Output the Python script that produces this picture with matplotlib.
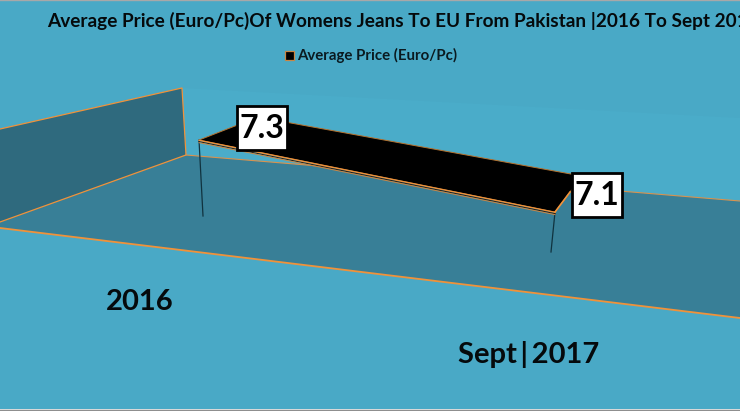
import matplotlib
matplotlib.use("Agg")
import matplotlib.pyplot as plt
from matplotlib.patches import Polygon, Rectangle

title = "Average Price (Euro/Pc)Of Womens Jeans To EU From Pakistan |2016 To Sept 2017"
series_name = "Average Price (Euro/Pc)"
periods = ["2016", "Sept\u2009|\u20092017"]
prices = [7.3, 7.1]

BG = "#49a9c6"
BACK = "#4aacc9"
FLOOR = "#387f97"
WALL = "#2f6a7e"
ORANGE = "#f0923a"

# the picture is a 3d chart, so draw in pixel space and project the values
base_value = 6.878
px_per_euro = 180
floor_pts = [(203, 216), (551, 252)]
top_dx = [-4, 4]
depth = [(59, -23), (27, -36)]
label_boxes = [(237, 106), (572, 173)]
box_w, box_h = 50, 44
period_pos = [(140, 302), (529, 354)]


def top_point(i):
    x, y = floor_pts[i]
    return x + top_dx[i], y - (prices[i] - base_value) * px_per_euro


def main():
    plt.rcParams["font.family"] = ["Lato", "DejaVu Sans"]
    fig = plt.figure(figsize=(7.4, 4.11), dpi=100, facecolor="#ececec")
    ax = fig.add_axes([0, 0, 1, 1])
    ax.set_xlim(0, 740)
    ax.set_ylim(411, 0)
    ax.axis("off")

    ax.add_patch(Rectangle((0, 1), 740, 408, fc=BG, ec="none", zorder=1))
    ax.plot([0, 740], [0.5, 0.5], color="#a8a8a8", lw=1, zorder=1)
    ax.plot([0, 740], [409.5, 409.5], color="#8f8f8f", lw=1, zorder=1)

    # back wall, floor, side wall
    ax.add_patch(Polygon([(182, 88), (740, 118), (740, 201), (186, 155)],
                         fc=BACK, ec="none", zorder=1))
    ax.add_patch(Polygon([(186, 155), (740, 201), (740, 318), (0, 228), (0, 222)],
                         fc=FLOOR, ec="none", zorder=1))
    ax.add_patch(Polygon([(0, 129), (182, 88), (186, 155), (0, 222)],
                         fc=WALL, ec="none", zorder=1))
    ax.plot([0, 182, 186, 0], [129, 88, 155, 222], color=ORANGE, lw=0.9, zorder=2)
    ax.plot([186, 740], [155, 201], color="#d8934f", lw=0.8, zorder=2)
    ax.plot([0, 740], [228, 318], color=ORANGE, lw=1.3, zorder=2)

    # drop lines
    for i in range(2):
        x, y = top_point(i)
        ax.plot([x, floor_pts[i][0]], [y, floor_pts[i][1]], color="#10323e", lw=0.9, zorder=3)

    # ribbon
    x0, y0 = top_point(0)
    x1, y1 = top_point(1)
    ribbon = [(x0, y0), (x0 + depth[0][0], y0 + depth[0][1]),
              (x1 + depth[1][0], y1 + depth[1][1]), (x1, y1)]
    ax.add_patch(Polygon(ribbon, fc="black", ec="#b5722f", lw=0.7, zorder=4))
    ax.plot([x0, x1], [y0 + 0.3, y1 + 0.3], color=ORANGE, lw=0.9, zorder=5)
    ax.plot([x0, x1], [y0 + 1.6, y1 + 1.6], color="#2a1c10", lw=0.7, zorder=5)
    ax.plot([x0, x1], [y0 + 2.6, y1 + 2.6], color="#c98745", lw=0.7, zorder=5)
    ax.plot([x1, x1 + 15], [y1, y1 - 20], color=ORANGE, lw=1.2, zorder=5)

    for i, v in enumerate(prices):
        bx, by = label_boxes[i]
        ax.add_patch(Rectangle((bx, by), box_w, box_h, fc="white", ec="black", lw=2, zorder=6))
        ax.text(bx + box_w / 2, by + box_h / 2, f"{v:.1f}", fontsize=23, fontweight="bold",
                ha="center", va="center", color="black", zorder=7)
        ax.text(*period_pos[i], periods[i], fontsize=21, fontweight="bold",
                ha="center", va="center", color="#050a0c", zorder=7)

    ax.text(47, 21, title, fontsize=13.7, fontweight="bold", ha="left", va="center",
            color="#050a0c", clip_on=True, zorder=7)

    ax.add_patch(Rectangle((284.5, 51.5), 9, 9, fc="black", ec="#c98745", lw=0.9, zorder=6))
    ax.text(297, 55, series_name, fontsize=10.8, fontweight="bold", ha="left",
            va="center", color="#0a1a20", zorder=7)

    fig.savefig("out.png", dpi=100, facecolor=fig.get_facecolor())


if __name__ == "__main__":
    main()
